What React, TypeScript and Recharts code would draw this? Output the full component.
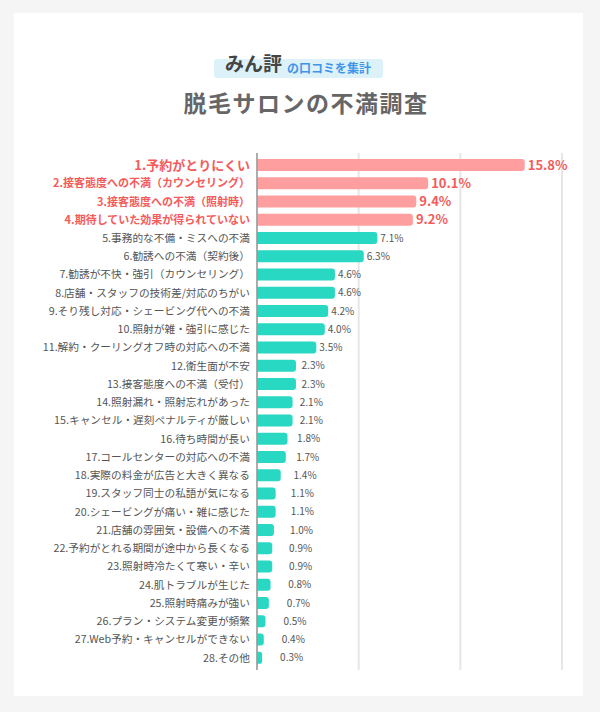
import { BarChart, Bar, XAxis, YAxis, CartesianGrid, Cell, LabelList } from "recharts";

const categories = [
  "1.予約がとりにくい",
  "2.接客態度への不満（カウンセリング）",
  "3.接客態度への不満（照射時）",
  "4.期待していた効果が得られていない",
  "5.事務的な不備・ミスへの不満",
  "6.勧誘への不満（契約後）",
  "7.勧誘が不快・強引（カウンセリング）",
  "8.店舗・スタッフの技術差/対応のちがい",
  "9.そり残し対応・シェービング代への不満",
  "10.照射が雑・強引に感じた",
  "11.解約・クーリングオフ時の対応への不満",
  "12.衛生面が不安",
  "13.接客態度への不満（受付）",
  "14.照射漏れ・照射忘れがあった",
  "15.キャンセル・遅刻ペナルティが厳しい",
  "16.待ち時間が長い",
  "17.コールセンターの対応への不満",
  "18.実際の料金が広告と大きく異なる",
  "19.スタッフ同士の私語が気になる",
  "20.シェービングが痛い・雑に感じた",
  "21.店舗の雰囲気・設備への不満",
  "22.予約がとれる期間が途中から長くなる",
  "23.照射時冷たくて寒い・辛い",
  "24.肌トラブルが生じた",
  "25.照射時痛みが強い",
  "26.プラン・システム変更が頻繁",
  "27.Web予約・キャンセルができない",
  "28.その他",
];

const values = [
  15.8, 10.1, 9.4, 9.2, 7.1, 6.3, 4.6, 4.6, 4.2, 4.0, 3.5, 2.3, 2.3, 2.1, 2.1, 1.8, 1.7, 1.4, 1.1, 1.1, 1.0,
  0.9, 0.9, 0.8, 0.7, 0.5, 0.4, 0.3,
];

const xTicks = [0, 6, 12, 18];
const highlightCount = 4;

const RED = "#ff9e9e";
const RED_TEXT = "#f45b5b";
const TEAL = "#29d8c2";
const FONT = '"Noto Sans CJK JP", "Noto Sans", sans-serif';

const data = categories.map((name, i) => ({ name, value: values[i] }));

function CategoryTick(props: any) {
  const { x, y, payload } = props;
  const i = categories.indexOf(payload.value);
  const hot = i < highlightCount;
  return (
    <text
      x={x}
      y={y}
      dy="0.36em"
      textAnchor="end"
      fontFamily={FONT}
      fontSize={i === 0 ? 13 : hot ? 11 : 10.7}
      fontWeight={hot ? 700 : 400}
      fill={hot ? RED_TEXT : "#555"}
    >
      {payload.value}
    </text>
  );
}

function ValueLabel(props: any) {
  const { x, y, width, height, value, index } = props;
  const hot = index < highlightCount;
  const gap = Math.max(3, Math.min(18, 24 - 8 * value));
  return (
    <text
      x={x + width + gap}
      y={y + height / 2}
      dy="0.36em"
      fontFamily={FONT}
      fontSize={hot ? 13 : 10}
      fontWeight={hot ? 700 : 400}
      fill={hot ? RED_TEXT : "#555"}
    >
      {value.toFixed(1)}%
    </text>
  );
}

export default function App() {
  return (
    <div style={{ position: "absolute", left: 0, top: 0, width: 600, height: 712, background: "#f5f5f5", fontFamily: FONT }}>
      <div style={{ position: "absolute", left: 14, top: 13, width: 569, height: 683, background: "#fff" }} />

      <div style={{ position: "absolute", left: 214, top: 59, width: 169, height: 19, background: "#dcf1f8", borderRadius: 3 }} />
      <div style={{ position: "absolute", left: 225, top: 53, fontSize: 19, fontWeight: 700, color: "#444", lineHeight: 1 }}>
        みん評
      </div>
      <div style={{ position: "absolute", left: 287, top: 62, fontSize: 12, fontWeight: 700, color: "#3f95e8", lineHeight: 1 }}>
        の口コミを集計
      </div>
      <div
        style={{
          position: "absolute",
          left: 6,
          width: 600,
          top: 91,
          textAlign: "center",
          fontSize: 23,
          fontWeight: 700,
          color: "#666",
          letterSpacing: 1.5,
          lineHeight: 1,
        }}
      >
        脱毛サロンの不満調査
      </div>

      <div style={{ position: "absolute", left: 0, top: 0 }}>
        <BarChart
          width={600}
          height={712}
          data={data}
          layout="vertical"
          margin={{ top: 153, right: 38, bottom: 42, left: 0 }}
          barCategoryGap={6}
        >
          <CartesianGrid horizontal={false} stroke="#e6e6e6" strokeWidth={2} />
          <XAxis type="number" domain={[0, 18]} ticks={xTicks} hide />
          <YAxis
            type="category"
            dataKey="name"
            width={257}
            tickLine={false}
            tickSize={6}
            tickMargin={1}
            axisLine={{ stroke: "#999", strokeWidth: 1.5 }}
            padding={{ top: 3, bottom: 3 }}
            interval={0}
            tick={<CategoryTick />}
          />
          <Bar dataKey="value" barSize={12} radius={[0, 3, 3, 0]} isAnimationActive={false}>
            {data.map((d, i) => (
              <Cell key={d.name} fill={i < highlightCount ? RED : TEAL} />
            ))}
            <LabelList dataKey="value" content={<ValueLabel />} />
          </Bar>
        </BarChart>
      </div>
    </div>
  );
}
